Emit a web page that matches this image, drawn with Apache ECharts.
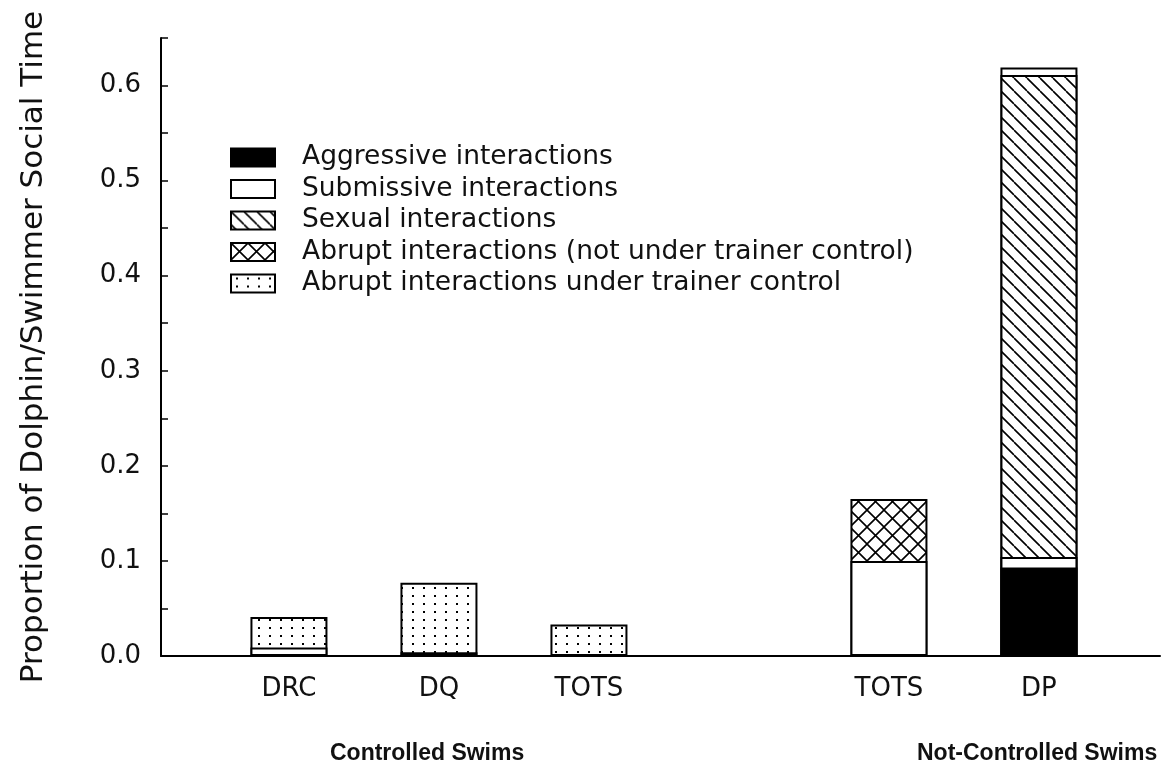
<!DOCTYPE html>
<html>
<head>
<meta charset="utf-8">
<script src="https://cdn.jsdelivr.net/npm/echarts@6/dist/echarts.min.js"></script>
<style>
    html, body { margin: 0; padding: 0; background: #fff; }
    #chart { width: 1165px; height: 770px; }
</style>
</head>
<body>
<div id="chart"></div>
<script>
// bar slots from left to right, '' is the empty slot between the two swim types
const barLabels = ['DRC', 'DQ', 'TOTS', '', 'TOTS', 'DP']
const groupTitles = ['Controlled Swims', 'Not-Controlled Swims']

// proportion of dolphin/swimmer social time, one value per slot
const aggressive = [0, 0.004, 0, 0, 0, 0.093]
const submissive = [0.009, 0, 0, 0, 0.100, 0.011]
const sexual = [0, 0, 0, 0, 0, 0.507]
const abruptFree = [0, 0, 0, 0, 0.065, 0]
const abruptControlled = [0.032, 0.073, 0.033, 0, 0, 0.008]

const layerNames = [
    'Aggressive interactions',
    'Submissive interactions',
    'Sexual interactions',
    'Abrupt interactions (not under trainer control)',
    'Abrupt interactions under trainer control'
]

const FONT = 'DejaVu Sans'

// hatch fills drawn on small canvases
function makeFill(kind) {
    if (kind === 'black') return '#000'
    if (kind === 'white') return '#fff'
    const size = { dots: [11, 8], diag: [13, 13], cross: [17, 17] }[kind]
    const c = document.createElement('canvas')
    c.width = size[0]
    c.height = size[1]
    const ctx = c.getContext('2d')
    ctx.fillStyle = '#fff'
    ctx.fillRect(0, 0, c.width, c.height)
    ctx.fillStyle = '#000'
    ctx.strokeStyle = '#000'
    ctx.lineWidth = 1.6
    if (kind === 'dots') {
        ctx.fillRect(5, 3, 2, 2)
    } else {
        const s = c.width
        ctx.beginPath()
        for (const k of [-s, 0, s]) {
            ctx.moveTo(k, 0)
            ctx.lineTo(k + s, s)
            if (kind === 'cross') {
                ctx.moveTo(k + s, 0)
                ctx.lineTo(k, s)
            }
        }
        ctx.stroke()
    }
    return { image: c, repeat: 'repeat' }
}

const layers = [
    { values: aggressive, fill: 'black' },
    { values: submissive, fill: 'white' },
    { values: sexual, fill: 'diag' },
    { values: abruptFree, fill: 'cross' },
    { values: abruptControlled, fill: 'dots' }
]

// running totals, each layer is drawn from 0 up to its top and lower layers sit on top of it
let running = barLabels.map(() => 0)
const series = layers.map((layer, k) => {
    running = running.map((r, i) => r + layer.values[i])
    const tops = running.slice()
    return {
        name: layerNames[k],
        type: 'bar',
        barWidth: 77,
        barGap: '-100%',
        z: 10 - k,
        itemStyle: {
            color: makeFill(layer.fill),
            borderColor: '#000',
            borderWidth: 2
        },
        data: tops.map((t, i) => [i, t]).filter((d, i) => layer.values[i] > 0)
    }
})

const myChart = echarts.init(document.getElementById('chart'))
myChart.setOption({
    animation: false,
    grid: { left: 161, right: 5, top: 38, bottom: 114 },
    legend: {
        orient: 'vertical',
        left: 225,
        top: 139,
        itemWidth: 44,
        itemHeight: 18,
        itemGap: 4.5,
        icon: 'rect',
        data: layerNames,
        textStyle: { fontFamily: FONT, fontSize: 26.5, lineHeight: 26, color: '#111', padding: [0, 0, 0, 22] }
    },
    title: [
        { text: groupTitles[0], left: 325, top: 737 },
        { text: groupTitles[1], left: 912, top: 737 }
    ].map(t => Object.assign(t, {
        textStyle: { fontFamily: 'Liberation Sans', fontWeight: 'bold', fontSize: 23, color: '#111' }
    })),
    xAxis: {
        type: 'value',
        min: -0.853,
        max: 5.807,
        splitLine: { show: false },
        axisTick: { show: false },
        axisLine: { show: true, onZero: false, lineStyle: { color: '#000', width: 2 } },
        axisLabel: {
            customValues: barLabels.map((v, i) => i).filter(i => barLabels[i]),
            formatter: v => barLabels[Math.round(v)] || '',
            margin: 20,
            fontFamily: FONT,
            fontSize: 26,
            color: '#111'
        }
    },
    yAxis: {
        type: 'value',
        min: 0,
        max: 0.65,
        interval: 0.05,
        name: 'Proportion of Dolphin/Swimmer Social Time',
        nameLocation: 'middle',
        nameGap: 112,
        nameTextStyle: { fontFamily: FONT, fontSize: 31, color: '#111' },
        splitLine: { show: false },
        axisLine: { show: true, onZero: false, lineStyle: { color: '#000', width: 2 } },
        axisTick: { show: true, inside: true, length: 7, lineStyle: { color: '#000', width: 1.5 } },
        axisLabel: {
            margin: 20,
            fontFamily: FONT,
            fontSize: 26,
            color: '#111',
            formatter: v => Math.abs(v * 10 - Math.round(v * 10)) < 1e-6 && v < 0.64 ? v.toFixed(1) : ''
        }
    },
    series: series
})
</script>
</body>
</html>
